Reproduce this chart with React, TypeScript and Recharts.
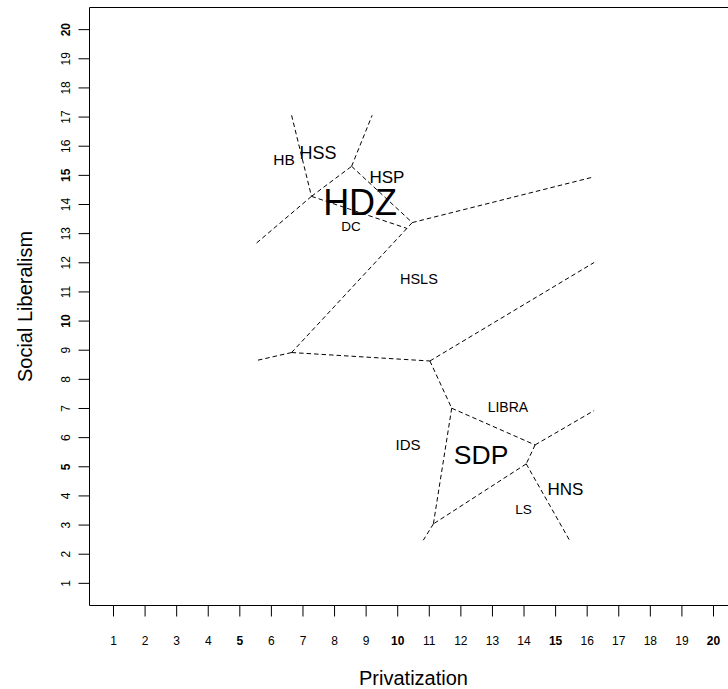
import React from 'react';
import { ComposedChart, XAxis, YAxis, Scatter, ReferenceLine, ReferenceArea, Label } from 'recharts';

const FONT = '"Liberation Sans", Arial, Helvetica, sans-serif';

// Axis ticks
const xTicks = [1, 2, 3, 4, 5, 6, 7, 8, 9, 10, 11, 12, 13, 14, 15, 16, 17, 18, 19, 20];
const yTicks = [1, 2, 3, 4, 5, 6, 7, 8, 9, 10, 11, 12, 13, 14, 15, 16, 17, 18, 19, 20];
const boldTicks = [5, 10, 15, 20];
const axisMin = 0.24;
const axisMax = 20.76;

// Party positions (Voronoi generators)
const partyNames = ['HB', 'HSS', 'HSP', 'HDZ', 'DC', 'HSLS', 'IDS', 'LIBRA', 'SDP', 'HNS', 'LS'];
const partyPrivatization = [6.4, 7.48, 9.66, 8.81, 8.52, 10.67, 10.33, 13.49, 12.64, 15.31, 13.98];
const partySocialLiberalism = [15.54, 15.77, 14.95, 14.08, 13.27, 11.45, 5.75, 7.06, 5.41, 4.24, 3.56];

// Voronoi tessellation vertices
const vertexX = [7.27, 8.54, 10.46, 10.29, 6.64, 11.02, 11.71, 14.35, 14.07, 11.13, 6.64, 9.19, 5.5, 5.5, 16.22, 16.22, 16.22, 15.44, 10.81];
const vertexY = [14.28, 15.31, 13.38, 13.18, 8.92, 8.63, 7.01, 5.75, 5.1, 3.04, 17.06, 17.06, 12.65, 8.64, 14.95, 12.01, 6.93, 2.48, 2.48];

// Voronoi edges (vertex indices)
const edgeFrom = [10, 0, 0, 1, 1, 0, 2, 2, 3, 4, 4, 5, 5, 6, 6, 7, 7, 8, 8, 9];
const edgeTo = [0, 12, 1, 11, 2, 3, 3, 14, 4, 13, 5, 15, 6, 7, 9, 16, 8, 17, 9, 18];

// Label styling
const labelFontSize: Record<string, number> = {
  HB: 15.5, HSS: 18, HSP: 17, HDZ: 36, DC: 13.5, HSLS: 14.5, IDS: 15, LIBRA: 14, SDP: 26.5, HNS: 17, LS: 13.5,
};

const partyData = partyNames.map((name, i) => ({ name, x: partyPrivatization[i], y: partySocialLiberalism[i] }));

const XTick = (props: any) => {
  const { x, y, payload } = props;
  const v = payload.value;
  return (
    <text x={x} y={y + 28.8} textAnchor="middle" fontSize={12} fontFamily={FONT}
      fontWeight={boldTicks.includes(v) ? 'bold' : 'normal'} fill="#000">{v}</text>
  );
};

const YTick = (props: any) => {
  const { x, y, payload } = props;
  const v = payload.value;
  return (
    <text transform={`translate(${x - 8.5}, ${y}) rotate(-90)`} textAnchor="middle" fontSize={12} fontFamily={FONT}
      fontWeight={boldTicks.includes(v) ? 'bold' : 'normal'} fill="#000">{v}</text>
  );
};

const PartyLabel = (props: any) => {
  const { cx, cy, payload } = props;
  const fs = labelFontSize[payload.name] ?? 14;
  return (
    <text x={cx} y={cy + fs * 0.358} textAnchor="middle" fontSize={fs} fontFamily={FONT} fill="#000">{payload.name}</text>
  );
};

export default function App() {
  return (
    <div style={{ position: 'absolute', left: 0, top: 0, width: 728, height: 689, overflow: 'hidden', background: '#fff' }}>
      <ComposedChart width={740} height={689} margin={{ top: 7.5, right: 2.5, bottom: 0, left: 0 }}>
        <XAxis type="number" dataKey="x" domain={[axisMin, axisMax]} ticks={xTicks} allowDataOverflow
          height={83.5} tickSize={11} tickMargin={0} axisLine={false} stroke="#000" tick={<XTick />} interval={0}>
          <Label content={(p: any) => {
            const vb = p.viewBox;
            return <text x={vb.x + vb.width / 2} y={vb.y + vb.height - 4} textAnchor="middle" fontSize={20} fontFamily={FONT} fill="#000">Privatization</text>;
          }} />
        </XAxis>
        <YAxis type="number" dataKey="y" domain={[axisMin, axisMax]} ticks={yTicks} allowDataOverflow
          width={89.5} tickSize={11} tickMargin={0} axisLine={false} stroke="#000" tick={<YTick />} interval={0}>
          <Label content={(p: any) => {
            const vb = p.viewBox;
            return <text transform={`translate(31.5, ${vb.y + vb.height / 2}) rotate(-90)`} textAnchor="middle" fontSize={20} fontFamily={FONT} fill="#000">Social Liberalism</text>;
          }} />
        </YAxis>
        <ReferenceArea x1={axisMin} x2={axisMax} y1={axisMin} y2={axisMax} fill="none" fillOpacity={0} stroke="#000" strokeWidth={1} ifOverflow="visible" />
        {edgeFrom.map((a, i) => {
          const b = edgeTo[i];
          return (
            <ReferenceLine key={i} segment={[{ x: vertexX[a], y: vertexY[a] }, { x: vertexX[b], y: vertexY[b] }]}
              stroke="#000" strokeWidth={1} strokeDasharray="4.5 3" ifOverflow="visible" />
          );
        })}
        <Scatter data={partyData} dataKey="y" isAnimationActive={false} shape={<PartyLabel />} />
      </ComposedChart>
    </div>
  );
}
